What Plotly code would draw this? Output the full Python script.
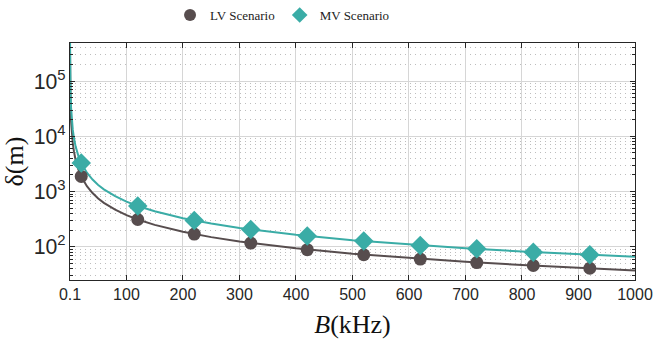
import plotly.graph_objects as go

# Curve samples (B in kHz, delta in m)
curve_b = [0.1, 0.2, 0.5, 1, 2, 3, 5, 7, 10, 15, 20, 30, 40, 50, 60, 80, 100, 120,
           150, 200, 250, 300, 400, 500, 600, 700, 800, 900, 1000]
lv_curve = [375000, 187000, 75000, 37500, 18800, 12500, 7500, 5400, 3750, 2500, 1880,
            1250, 940, 750, 625, 470, 375, 313, 250, 188, 150, 125, 94, 75, 62.5, 53.6,
            46.9, 41.7, 37.5]
mv_curve = [660000, 330000, 132000, 66000, 33000, 22000, 13200, 9430, 6600, 4400, 3300,
            2200, 1650, 1320, 1100, 825, 660, 550, 440, 330, 264, 220, 165, 132, 110, 94,
            82.5, 73, 66]

# Marker points
marker_b = [20, 120, 220, 320, 420, 520, 620, 720, 820, 920]
lv_marks = [1880, 313, 170, 117, 89, 72, 60, 52, 46, 41]
mv_marks = [3300, 550, 300, 206, 157, 127, 106, 92, 80, 72]

x_tickvals = [0.1, 100, 200, 300, 400, 500, 600, 700, 800, 900, 1000]
x_ticktext = ["0.1", "100", "200", "300", "400", "500", "600", "700", "800", "900", "1000"]

LV = "#574d4e"
MV = "#3aaca6"

fig = go.Figure()
fig.add_trace(go.Scatter(x=curve_b, y=lv_curve, mode="lines", line=dict(color=LV, width=2),
                         showlegend=False, hoverinfo="skip"))
fig.add_trace(go.Scatter(x=curve_b, y=mv_curve, mode="lines", line=dict(color=MV, width=2),
                         showlegend=False, hoverinfo="skip"))
fig.add_trace(go.Scatter(x=marker_b, y=lv_marks, mode="markers", name="LV Scenario",
                         marker=dict(symbol="circle", size=13, color=LV)))
fig.add_trace(go.Scatter(x=marker_b, y=mv_marks, mode="markers", name="MV Scenario",
                         marker=dict(symbol="diamond", size=15, color=MV)))

fig.update_layout(
    width=654, height=339,
    margin=dict(l=70, r=19, t=43, b=59),
    paper_bgcolor="white", plot_bgcolor="white",
    font=dict(family="Liberation Sans, Arial", size=16, color="#262626"),
    legend=dict(orientation="h", xref="container", x=0.26, xanchor="left",
                yref="container", y=1.0, yanchor="top",
                font=dict(family="Liberation Serif, serif", size=13, color="#222"),
                itemsizing="constant", bgcolor="rgba(0,0,0,0)"),
    showlegend=True,
)

fig.update_xaxes(
    range=[0.1, 1000], tickvals=x_tickvals, ticktext=x_ticktext, automargin=False,
    showline=True, linecolor="#262626", linewidth=1, mirror="ticks",
    ticks="inside", ticklen=5, tickcolor="#262626",
    tickfont=dict(size=16),
    showgrid=True, gridcolor="#d6d6d6", gridwidth=1, zeroline=False,
    title=dict(text="<i>B</i>(kHz)", font=dict(family="Liberation Serif, serif", size=26, color="#111")),
)
fig.update_yaxes(
    type="log", range=[1.4, 5.69], dtick=1, exponentformat="power", automargin=False,
    showline=True, linecolor="#262626", linewidth=1, mirror="ticks",
    ticks="inside", ticklen=5, tickcolor="#262626",
    tickfont=dict(size=17),
    showgrid=True, gridcolor="#d6d6d6", gridwidth=1, zeroline=False,
    minor=dict(ticks="inside", ticklen=3, tickcolor="#262626", showgrid=True,
               gridcolor="#bdbdbd", griddash="1px,4px", gridwidth=1),
    title=dict(text="δ(m)", font=dict(family="Liberation Serif, serif", size=26, color="#111")),
)

fig.write_html("out.html", config={"displayModeBar": False},
               post_script="document.body.style.margin='0';document.body.style.padding='0';")
